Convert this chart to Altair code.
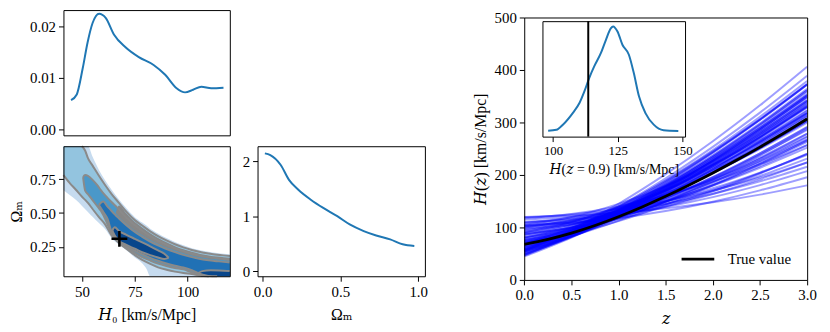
import altair as alt
import pandas as pd

FONT = "Liberation Serif, DejaVu Serif, serif"
W, H = 822, 324

# ---------------- data ----------------
# top-left: marginal density of H0
h0_marg_x = [44.8, 47.5, 50.3, 52.6, 55.0, 58.1, 61.2, 65.1, 70.6, 76.9, 83.9, 89.4, 94.8, 98.8, 102.6, 106.5, 111.2, 117.0]
h0_marg_y = [0.0057, 0.0068, 0.0118, 0.0168, 0.0206, 0.0224, 0.0216, 0.0184, 0.0159, 0.0140, 0.0125, 0.0106, 0.0080, 0.0072, 0.0077, 0.0083, 0.0080, 0.0081]

# bottom-middle: marginal density of Omega_m
om_marg_x = [0.015, 0.05, 0.117, 0.17, 0.23, 0.31, 0.39, 0.48, 0.56, 0.65, 0.73, 0.82, 0.90, 0.975]
om_marg_y = [2.14, 2.11, 1.93, 1.66, 1.48, 1.30, 1.15, 1.00, 0.85, 0.73, 0.65, 0.58, 0.49, 0.46]

# inset: density of H(z=0.9)
hz_x = [98.1, 101.3, 103.8, 107.6, 110.2, 112.1, 114.0, 115.9, 118.5, 120.4, 122.3, 123.2, 124.9, 126.8, 129.3, 131.2, 133.2, 135.7, 138.9, 142.7, 148.4]
hz_y = [0.0003, 0.0007, 0.0030, 0.0082, 0.0127, 0.0179, 0.0240, 0.0291, 0.0351, 0.0409, 0.0461, 0.0470, 0.0447, 0.0388, 0.0343, 0.0261, 0.0157, 0.0082, 0.0030, 0.0005, 0.0002]
hz_true = [113.6]

# right: true H(z) and posterior sample curves
z_fine = [0, 0.25, 0.5, 0.75, 1.0, 1.25, 1.5, 1.75, 2.0, 2.25, 2.5, 2.75, 3.0]
h_true = [67.7, 77.1, 89.2, 103.8, 120.5, 139.1, 159.3, 180.9, 203.8, 227.9, 253.1, 279.4, 306.8]
z_samp = [0, 0.5, 1.0, 1.5, 2.0, 2.5, 3.0]
samples = [
    [119.9, 122.7, 128.0, 136.3, 147.8, 162.5, 180.2],
    [119.3, 124.8, 135.0, 150.2, 170.4, 195.1, 223.8],
    [110.5, 115.6, 125.0, 139.1, 157.8, 180.7, 207.3],
    [104.3, 109.1, 118.0, 131.3, 149.0, 170.6, 195.7],
    [109.1, 116.6, 130.0, 149.5, 174.6, 204.5, 238.5],
    [117.5, 125.6, 140.0, 161.0, 188.0, 220.2, 256.9],
    [102.4, 109.5, 122.0, 140.3, 163.8, 191.9, 223.9],
    [102.5, 111.8, 128.0, 151.0, 179.9, 213.8, 251.9],
    [108.9, 118.8, 136.0, 160.4, 191.1, 227.1, 267.6],
    [95.1, 105.8, 124.0, 149.2, 180.4, 216.6, 256.9],
    [101.2, 112.6, 131.9, 158.8, 192.0, 230.5, 273.4],
    [89.0, 99.0, 116.0, 139.7, 168.9, 202.7, 240.5],
    [91.9, 105.1, 127.0, 156.5, 192.3, 233.3, 278.6],
    [99.9, 114.3, 138.1, 170.2, 209.1, 253.6, 302.8],
    [85.9, 100.9, 125.1, 157.0, 195.1, 238.4, 285.9],
    [90.0, 105.7, 131.0, 164.5, 204.4, 249.7, 299.6],
    [78.8, 95.7, 122.1, 156.1, 196.2, 241.3, 290.6],
    [85.9, 104.3, 133.1, 170.2, 213.9, 263.0, 316.8],
    [76.0, 95.9, 126.0, 164.0, 208.1, 257.4, 311.0],
    [71.2, 89.9, 118.1, 153.6, 195.0, 241.1, 291.4],
    [72.5, 95.5, 129.1, 170.6, 218.2, 271.1, 328.5],
    [68.0, 89.6, 121.1, 160.0, 204.7, 254.3, 308.1],
    [66.4, 91.6, 127.0, 170.0, 219.0, 273.1, 331.6],
    [70.6, 97.4, 135.1, 180.8, 232.9, 290.3, 352.6],
    [60.9, 87.6, 124.1, 167.7, 217.0, 271.3, 329.9],
    [64.3, 92.5, 131.0, 177.0, 229.1, 286.4, 348.4],
    [57.2, 86.9, 126.0, 172.0, 223.7, 280.4, 341.5],
    [54.0, 82.0, 118.9, 162.4, 211.2, 264.7, 322.4],
    [55.2, 88.0, 130.0, 178.9, 233.5, 293.2, 357.5],
    [51.8, 82.6, 122.0, 167.9, 219.2, 275.2, 335.5],
    [50.8, 84.7, 127.0, 175.7, 230.0, 289.2, 352.9],
    [53.6, 89.4, 134.0, 185.4, 242.7, 305.1, 372.3],
    [47.4, 82.4, 125.0, 173.7, 227.8, 286.7, 350.1],
    [55.0, 95.6, 145.0, 201.6, 264.3, 332.7, 406.2],
    [44.8, 80.8, 123.9, 172.9, 227.1, 286.1, 349.5],
    [47.7, 86.1, 131.9, 184.1, 241.8, 304.6, 372.1],
    [72.3, 87.8, 112.0, 143.2, 180.0, 221.4, 266.6],
    [104.9, 120.0, 145.0, 178.7, 219.5, 266.3, 317.8],
    [68.7, 98.8, 140.0, 189.2, 244.8, 306.0, 372.2],
    [63.5, 83.7, 113.1, 149.4, 191.1, 237.4, 287.7],
    [80.5, 101.6, 133.5, 173.7, 220.5, 272.6, 329.5],
    [60.5, 91.9, 133.2, 181.9, 236.6, 296.6, 361.2],
    [58.5, 93.3, 137.8, 189.6, 247.5, 310.8, 378.9],
    [98.2, 109.2, 128.0, 154.1, 186.3, 223.7, 265.3],
    [86.8, 99.3, 120.0, 147.8, 181.7, 220.3, 263.1],
    [94.1, 110.5, 137.0, 172.0, 213.8, 261.1, 313.2],
    [81.7, 96.0, 119.0, 149.3, 185.6, 226.7, 272.0],
    [82.0, 99.6, 127.0, 162.5, 204.2, 251.1, 302.4],
    [90.4, 109.8, 140.0, 179.1, 225.1, 276.8, 333.4],
    [79.0, 99.7, 131.0, 170.5, 216.3, 267.5, 323.3],
    [74.2, 93.7, 123.0, 160.1, 203.2, 251.3, 303.7],
    [70.2, 92.5, 125.0, 165.1, 211.3, 262.5, 318.1],
    [75.3, 99.2, 134.1, 177.1, 226.7, 281.5, 341.2],
    [63.8, 88.0, 122.1, 163.4, 210.4, 262.4, 318.6],
    [68.5, 94.5, 131.0, 175.4, 225.9, 281.7, 342.1],
    [62.3, 89.6, 126.9, 171.5, 222.0, 277.5, 337.5],
    [57.9, 83.3, 118.0, 159.4, 206.3, 257.9, 313.7],
    [59.0, 89.6, 129.9, 177.4, 230.8, 289.2, 352.3],
    [55.4, 84.1, 122.0, 166.6, 216.7, 271.6, 330.8],
    [53.5, 85.3, 126.0, 173.4, 226.3, 284.2, 346.5],
    [48.8, 81.4, 122.0, 168.8, 221.0, 277.8, 339.0],
    [56.0, 93.4, 140.0, 193.7, 253.6, 318.8, 389.0],
    [49.3, 85.7, 130.0, 180.7, 236.9, 298.2, 364.1],
    [46.3, 83.5, 128.1, 178.7, 234.7, 295.7, 361.2],
    [105.7, 113.0, 126.0, 144.8, 169.1, 198.1, 231.1],
    [97.7, 106.6, 122.0, 143.9, 171.5, 203.8, 240.1],
    [114.9, 120.2, 130.0, 144.7, 164.1, 187.9, 215.6],
    [57.7, 92.0, 135.9, 187.0, 244.1, 306.5, 373.7],
    [75.5, 91.7, 117.0, 149.6, 188.0, 231.2, 278.4],
]

# bottom-left: joint contour bands (H0, lower Omega_m, upper Omega_m)
c1_h0 = [41.2, 44, 47.2, 50, 52.8, 55, 58, 61, 64, 67.5, 71, 75, 78.5, 80.5, 82.3, 86, 90, 94, 98, 102, 106, 110, 114, 117, 120]
c1_lo = [0.670, 0.635, 0.596, 0.553, 0.508, 0.472, 0.426, 0.380, 0.315, 0.268, 0.225, 0.172, 0.130, 0.090, 0.034, 0.034, 0.034, 0.034, 0.034, 0.034, 0.034, 0.034, 0.034, 0.034, 0.034]
c1_hi = [0.993, 0.993, 0.993, 0.993, 0.993, 0.915, 0.818, 0.740, 0.672, 0.601, 0.535, 0.470, 0.430, 0.408, 0.385, 0.350, 0.316, 0.287, 0.262, 0.241, 0.226, 0.215, 0.206, 0.200, 0.196]

c2_h0 = [41.2, 44, 47.2, 50, 51.5, 52.8, 55, 58, 61, 64, 67.5, 71, 75, 78.5, 82.3, 86, 90, 94, 98, 102, 106, 110, 114, 117, 120]
c2_lo = [0.780, 0.725, 0.670, 0.620, 0.597, 0.575, 0.530, 0.470, 0.415, 0.335, 0.280, 0.237, 0.190, 0.155, 0.125, 0.100, 0.082, 0.068, 0.058, 0.050, 0.040, 0.034, 0.034, 0.034, 0.034]
c2_hi = [0.993, 0.993, 0.993, 0.993, 0.960, 0.905, 0.850, 0.775, 0.705, 0.640, 0.575, 0.510, 0.448, 0.408, 0.365, 0.330, 0.298, 0.270, 0.247, 0.228, 0.213, 0.202, 0.193, 0.188, 0.184]

c3_h0 = [50.5, 51.5, 52.8, 55, 57.5, 59, 61, 63.7, 67, 71, 75, 78.5, 82.3, 86, 90, 94, 98, 102, 106, 110, 114, 117, 120]
c3_lo = [0.765, 0.665, 0.640, 0.595, 0.545, 0.515, 0.455, 0.360, 0.290, 0.245, 0.205, 0.175, 0.150, 0.128, 0.110, 0.095, 0.085, 0.062, 0.045, 0.034, 0.034, 0.034, 0.034]
c3_hi = [0.765, 0.780, 0.775, 0.745, 0.700, 0.667, 0.630, 0.585, 0.535, 0.465, 0.410, 0.370, 0.330, 0.298, 0.268, 0.242, 0.220, 0.200, 0.185, 0.175, 0.167, 0.162, 0.158]

c4_h0 = [58, 60, 62, 64, 65.5, 67.5, 71, 75, 78.5, 82.3, 86, 90, 94, 98, 102, 106, 110, 114, 117, 120]
c4_lo = [0.560, 0.510, 0.460, 0.362, 0.325, 0.292, 0.255, 0.222, 0.195, 0.170, 0.148, 0.128, 0.112, 0.098, 0.078, 0.052, 0.036, 0.034, 0.034, 0.034]
c4_hi = [0.560, 0.585, 0.550, 0.515, 0.490, 0.460, 0.410, 0.360, 0.325, 0.290, 0.262, 0.235, 0.212, 0.192, 0.175, 0.162, 0.152, 0.145, 0.140, 0.136]

c5a_h0 = [64.3, 65.5, 67.5, 71, 75, 78.5, 82.3, 86, 89, 91]
c5a_lo = [0.372, 0.335, 0.297, 0.265, 0.237, 0.211, 0.190, 0.172, 0.162, 0.170]
c5a_hi = [0.372, 0.395, 0.368, 0.340, 0.310, 0.284, 0.255, 0.225, 0.200, 0.170]

c5b_h0 = [105, 107, 111, 115, 120]
c5b_lo = [0.058, 0.034, 0.034, 0.034, 0.034]
c5b_hi = [0.058, 0.072, 0.078, 0.077, 0.072]

# grey zone of stacked contour lines on the upper side of the ridge
cg_h0 = [66, 67.5, 71, 75, 78.5, 82.3, 86, 90, 94, 98, 102, 106, 110, 114, 117, 120]
cg_lo = [0.500, 0.472, 0.422, 0.372, 0.337, 0.302, 0.274, 0.247, 0.224, 0.204, 0.187, 0.174, 0.164, 0.157, 0.152, 0.148]
cg_hi = [0.500, 0.555, 0.496, 0.434, 0.394, 0.351, 0.316, 0.284, 0.256, 0.233, 0.214, 0.199, 0.188, 0.179, 0.174, 0.170]

true_h0 = [67.7]
true_om = [0.31]

# ---------------- layout helpers ----------------
# panel: x domain, x pixel range, y domain, y pixel range (inside one 822x324 view)
PANELS = {
    "tl": ([41.2, 120], [56, 224], [-0.0011, 0.0231], [127, 0.5]),
    "bl": ([41.2, 120], [56, 224], [0.034, 0.993], [269.3, 138]),
    "bm": ([-0.032, 1.043], [252, 421], [-0.09, 2.27], [269.3, 138]),
    "r": ([0, 3], [521.3, 807], [0, 500], [273, 8]),
    "in": ([95.9, 151], [539.7, 683.7], [-0.00235, 0.04935], [128.3, 11.7]),
}


def scale(dom, rng):
    return alt.Scale(domain=dom, range=rng, zero=False, nice=False)


def axis(orient, offset, values=None, fmt=None, title=None, tpad=6, fs=15, ticks=True, labels=True):
    kw = dict(grid=False, domainColor="black", domainWidth=1, tickColor="black", tickWidth=1, tickSize=5,
              labelFont=FONT, labelColor="black", labelPadding=3, labelFlush=False, labelOverlap=False,
              titleFont=FONT, titleColor="black", titleFontWeight="normal", zindex=2,
              orient=orient, offset=offset, labelFontSize=fs, titleFontSize=fs + 1,
              ticks=ticks, labels=labels, titlePadding=tpad)
    if values is not None:
        kw["values"] = values
    if fmt is not None:
        kw["format"] = fmt
    return alt.Axis(title=title, **kw)


def frames(key, xvals=None, xfmt=None, yvals=None, yfmt=None, xtitle=None, ytitle=None,
           xshow=True, yshow=True, fs=15, xtpad=6, ytpad=6):
    xd, xr, yd, yr = PANELS[key]
    corners = pd.DataFrame({"fx": xd, "fy": yd})
    base = alt.Chart(corners).mark_point(opacity=0, size=1)
    a = base.encode(
        x=alt.X("fx:Q", scale=scale(xd, xr),
                axis=axis("bottom", yr[0] - H, xvals, xfmt, xtitle, xtpad, fs, xshow, xshow)),
        y=alt.Y("fy:Q", scale=scale(yd, yr),
                axis=axis("left", -xr[0], yvals, yfmt, ytitle, ytpad, fs, yshow, yshow)),
    )
    b = base.encode(
        x=alt.X("fx:Q", scale=scale(xd, xr), axis=axis("top", -yr[1], ticks=False, labels=False)),
        y=alt.Y("fy:Q", scale=scale(yd, yr), axis=axis("right", xr[1] - W, ticks=False, labels=False)),
    )
    return [a, b]


def xy(key, xf, yf, y2f=None):
    xd, xr, yd, yr = PANELS[key]
    enc = dict(x=alt.X(xf, type="quantitative", scale=scale(xd, xr), axis=None),
               y=alt.Y(yf, type="quantitative", scale=scale(yd, yr), axis=None))
    if y2f is not None:
        enc["y2"] = alt.Y2(y2f)
    return enc


def edge_rows(h0s, vals, part):
    rows = []
    n = len(h0s)

    def at_edge(v):
        return v <= 0.0345 or v >= 0.9925

    for i in range(n):
        if at_edge(vals[i]):
            prev_in = i > 0 and not at_edge(vals[i - 1])
            next_in = i < n - 1 and not at_edge(vals[i + 1])
            if not (prev_in or next_in):
                continue
        rows.append({"h0": h0s[i], "om": vals[i], "part": part})
    return rows


layers = []

# ---- top-left ----
df_tl = pd.DataFrame({"h0": h0_marg_x, "dens": h0_marg_y})
layers.append(alt.Chart(df_tl).mark_line(color="#1f77b4", strokeWidth=2, interpolate="monotone")
              .encode(**xy("tl", "h0", "dens")))
layers += frames("tl", xshow=False, yvals=[0, 0.01, 0.02], yfmt=".2f")

# ---- bottom-left contours ----
levels = [
    (c1_h0, c1_lo, c1_hi, "#c6dbef"),
    (c2_h0, c2_lo, c2_hi, "#93c4df"),
    (c3_h0, c3_lo, c3_hi, "#4a98c9"),
    (cg_h0, cg_lo, cg_hi, "#878787"),
    (c4_h0, c4_lo, c4_hi, "#2171b5"),
    (c5a_h0, c5a_lo, c5a_hi, "#08468b"),
    (c5b_h0, c5b_lo, c5b_hi, "#08468b"),
]
for h0s, los, his, col in levels:
    d = pd.DataFrame({"h0": h0s, "lo": los, "hi": his})
    layers.append(alt.Chart(d).mark_area(color=col, opacity=1, interpolate="monotone")
                  .encode(**xy("bl", "h0", "lo", "hi")))

edge_data = []
for name, (h0s, los, his) in {"c2": (c2_h0, c2_lo, c2_hi), "c3": (c3_h0, c3_lo, c3_hi),
                               "c4": (c4_h0, c4_lo, c4_hi), "c5a": (c5a_h0, c5a_lo, c5a_hi),
                               "c5b": (c5b_h0, c5b_lo, c5b_hi)}.items():
    edge_data += edge_rows(h0s, los, name + "_lo")
    edge_data += edge_rows(h0s, his, name + "_hi")
df_edges = pd.DataFrame(edge_data)
enc = xy("bl", "h0", "om")
enc["detail"] = alt.Detail("part:N")
layers.append(alt.Chart(df_edges).mark_line(color="#8a8a8a", strokeWidth=2, interpolate="monotone").encode(**enc))

df_true = pd.DataFrame({"h0": true_h0, "om": true_om})
layers.append(alt.Chart(df_true).mark_point(shape="M-1,0L1,0M0,-1L0,1", filled=False, stroke="black",
                                            strokeWidth=2.6, size=256, opacity=1)
              .encode(**xy("bl", "h0", "om")))
layers += frames("bl", xvals=[50, 75, 100], xfmt="d", yvals=[0.25, 0.5, 0.75], yfmt=".2f",
                 xtitle="𝐻₀ [km/s/Mpc]", ytitle="Ωₘ", xtpad=8, ytpad=5)

# ---- bottom-middle ----
df_bm = pd.DataFrame({"om": om_marg_x, "dens": om_marg_y})
layers.append(alt.Chart(df_bm).mark_line(color="#1f77b4", strokeWidth=2, interpolate="monotone")
              .encode(**xy("bm", "om", "dens")))
layers += frames("bm", xvals=[0, 0.5, 1.0], xfmt=".1f", yvals=[0, 1, 2], yfmt="d",
                 xtitle="Ωₘ", xtpad=8)

# ---- right panel ----
rows = []
for i, s in enumerate(samples):
    for z, h in zip(z_samp, s):
        rows.append({"z": z, "h": h, "id": i})
df_s = pd.DataFrame(rows)
enc = xy("r", "z", "h")
enc["detail"] = alt.Detail("id:N")
layers.append(alt.Chart(df_s).mark_line(color="#0000ff", strokeWidth=2, opacity=0.38, interpolate="monotone")
              .encode(**enc))
df_t = pd.DataFrame({"z": z_fine, "h": h_true, "lab": ["True value"] * len(z_fine)})
enc = xy("r", "z", "h")
enc["color"] = alt.Color("lab:N", scale=alt.Scale(domain=["True value"], range=["black"]),
                         legend=alt.Legend(orient="none", legendX=678.7, legendY=234, title=None,
                                           symbolType="stroke", symbolStrokeWidth=2.8, symbolSize=1089,
                                           symbolOffset=0, padding=0, labelOffset=12,
                                           labelFont=FONT, labelFontSize=15, labelColor="black"))
layers.append(alt.Chart(df_t).mark_line(strokeWidth=2.8, interpolate="monotone").encode(**enc))
layers += frames("r", xvals=[0, 0.5, 1.0, 1.5, 2.0, 2.5, 3.0], xfmt=".1f",
                 yvals=[0, 100, 200, 300, 400, 500], yfmt="d",
                 xtitle="𝑧", ytitle="𝐻(𝑧) [km/s/Mpc]", xtpad=8, ytpad=6)

# ---- inset ----
df_in = pd.DataFrame({"hz": hz_x, "dens": hz_y})
layers.append(alt.Chart(df_in).mark_line(color="#1f77b4", strokeWidth=2, interpolate="monotone")
              .encode(**xy("in", "hz", "dens")))
ind = PANELS["in"][2]
df_rule = pd.DataFrame({"hz": hz_true, "y0": [ind[0]], "y1": [ind[1]]})
layers.append(alt.Chart(df_rule).mark_rule(color="black", strokeWidth=2)
              .encode(**xy("in", "hz", "y0", "y1")))
layers += frames("in", xvals=[100, 125, 150], xfmt="d", yshow=False,
                 xtitle="𝐻(𝑧 = 0.9) [km/s/Mpc]", fs=13, xtpad=5)

chart = (alt.layer(*layers)
         .resolve_scale(x="independent", y="independent")
         .properties(width=W, height=H, padding=0, autosize=alt.AutoSizeParams(type="none"))
         .configure_view(stroke=None))

chart.save("out.html", embed_options={"renderer": "svg", "actions": False})
